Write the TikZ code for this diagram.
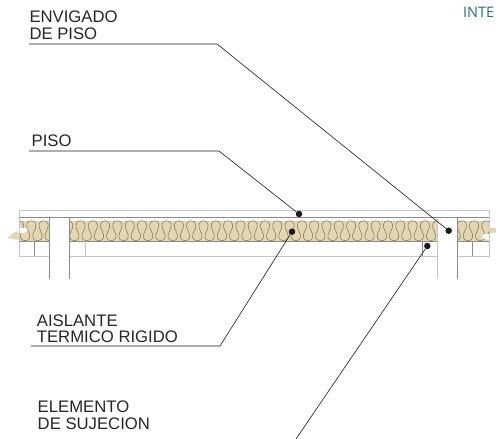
\documentclass[tikz,border=0pt]{standalone}
\usepackage{fontspec}
\setmainfont{Liberation Sans}
\newfontfamily\intefont{Open Sans}
\usetikzlibrary{positioning}
\definecolor{batt}{HTML}{E3D6B1}
\definecolor{battline}{HTML}{7F7A68}
\definecolor{inte}{HTML}{1F6F8B}
\tikzset{
	label/.style={
		align=left,
		inner sep=0pt,
		anchor=base west,
		font=\fontsize{16.7}{16.4}\selectfont,
		text=black!85
	},
	leader/.style={
		draw=black!90,
		line width=0.6pt
	},
	spot/.style={
		circle,
		fill=black!90,
		inner sep=0pt,
		minimum size=6.5pt
	},
	wood/.style={
		draw=black!45,
		line width=0.6pt
	},
	paleline/.style={
		draw=black!22,
		line width=1pt
	}
}
\begin{document}
\begin{tikzpicture}[x=1pt,y=-1pt]
		\useasboundingbox (0,0) rectangle (496,439);
		% insulation band
		\fill[batt] (19,220.5) rectangle (489,241);
		\fill[batt] (19,231) .. controls (13,231) and (11,236) .. (7,238) -- (19,240) -- cycle;
		\fill[batt] (489,228) -- (496,228) -- (496,232.5) -- (489,233) -- cycle;
		\begin{scope}
			\clip (19,220.5) rectangle (489,241);
			\foreach \xa in {19,31.3,...,490}{
				\draw[battline, line width=0.55pt] (\xa,220.7) .. controls (\xa+5.5,220.7) and (\xa+5.5,227) .. (\xa+3,231) .. controls (\xa+0.5,235) and (\xa+0.5,240.7) .. (\xa+6.15,240.7) .. controls (\xa+11.8,240.7) and (\xa+11.8,235) .. (\xa+9.3,231) .. controls (\xa+6.8,227) and (\xa+6.8,220.7) .. (\xa+12.3,220.7);
			}
		\end{scope}
		% torn ends
		\fill[white] (18,228) -- (27,228) .. controls (28,231) and (26,233) .. (22,233) -- (18,233) -- cycle;
		\fill[white] (490,234) -- (484,234) -- (481,238) -- (490,240) -- cycle;
		% floor board
		\draw[paleline] (19,256) -- (19,210) -- (489,210) -- (489,256) -- cycle;
		\draw[wood] (19,217.7) -- (489,217.7);
		\draw[wood] (19,241) -- (489,241);
		% lower boards
		\draw[wood] (34.3,241) -- (34.3,256);
		\draw[paleline] (85,241) -- (85,256);
		\draw[wood] (422.7,241) -- (422.7,256);
		\draw[wood] (472.7,241) -- (472.7,256);
		% joists
		\fill[white] (50,218.1) rectangle (69.5,279);
		\fill[white] (437.5,218.1) rectangle (457,279);
		\draw[wood] (49.7,218) -- (49.7,279);
		\draw[wood] (69.5,218) -- (69.5,279);
		\draw[paleline] (437.5,218) -- (437.5,279);
		\draw[wood] (457.2,218) -- (457.2,279);
		% labels
		\node[label] (envigado) at (29.3,39) {ENVIGADO\\DE PISO};
		\node[label] (piso) at (31.5,146.7) {PISO};
		\node[label] (aislante) at (36.7,342.7) {AISLANTE\\TERMICO RIGIDO};
		\node[label] (elemento) at (37.5,429) {ELEMENTO\\DE SUJECION};
		\node[inner sep=0pt, anchor=base west, text=inte, font=\intefont\fontsize{14.5}{16}\selectfont] (inte) at (463,17.5) {INTE};
		% dots
		\node[spot] (d1) at (448.7,230.7) {};
		\node[spot] (d2) at (299,214) {};
		\node[spot] (d3) at (292,231.7) {};
		\node[spot] (d4) at (427.3,246) {};
		\coordinate (k1) at (217,44);
		\coordinate (k2) at (219,151);
		\coordinate (k3) at (220,346);
		\coordinate (e1) at (29,44);
		\coordinate (e2) at (29,151);
		\coordinate (e3) at (31,346);
		\coordinate (e4) at (296,439);
		\draw[leader] (e1) -- (k1) -- (d1);
		\draw[leader] (e2) -- (k2) -- (d2);
		\draw[leader] (e3) -- (k3) -- (d3);
		\draw[leader] (e4) -- (d4);
\end{tikzpicture}
\end{document}
